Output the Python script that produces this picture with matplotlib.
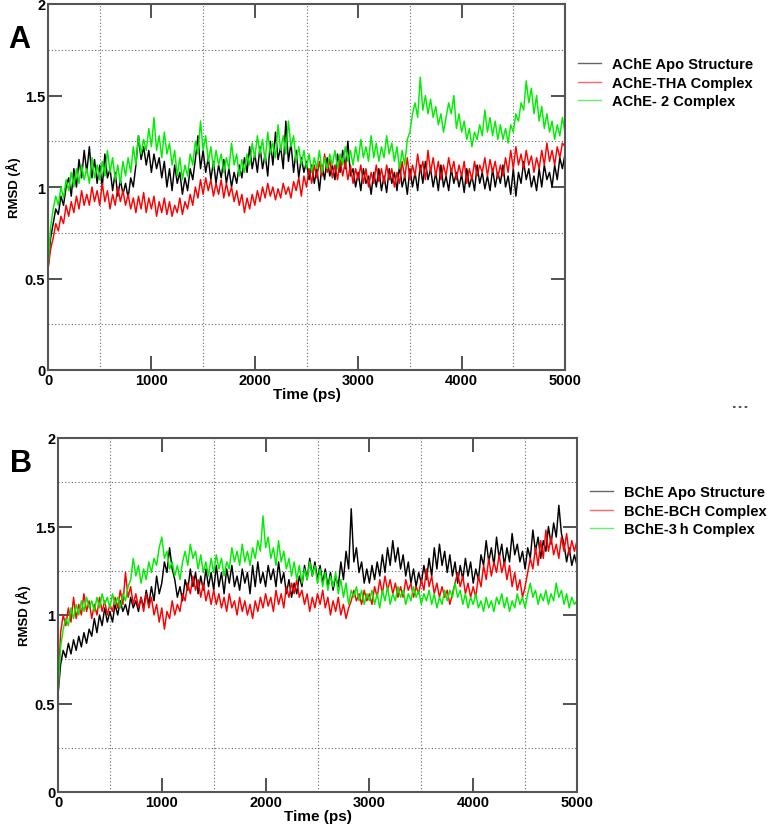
import numpy as np
import matplotlib
matplotlib.use("Agg")
import matplotlib.pyplot as plt
from matplotlib.lines import Line2D

plt.rcParams['font.family'] = ['Liberation Sans', 'DejaVu Sans']
plt.rcParams['font.weight'] = 'bold'

time_ps = np.arange(0, 5001, 25)

ache_apo = [0.55, 0.72, 0.80, 0.88, 0.85, 0.95, 0.90, 1.00, 1.05, 0.95,
            1.10, 1.00, 1.15, 1.05, 1.20, 1.08, 1.22, 1.05, 1.15, 1.02,
            1.12, 1.00, 1.18, 1.05, 1.10, 0.98, 1.08, 0.95, 1.04, 0.96,
            1.02, 0.94, 1.05, 1.00, 1.12, 1.28, 1.15, 1.22, 1.12, 1.20,
            1.08, 1.18, 1.10, 1.16, 1.05, 1.14, 1.00, 1.10, 0.98, 1.12,
            1.02, 1.08, 0.96, 1.05, 0.98, 1.10, 1.04, 1.15, 1.28, 1.10,
            1.20, 1.08, 1.16, 1.04, 1.14, 1.02, 1.12, 1.05, 1.15, 1.02,
            1.10, 1.00, 1.08, 1.02, 1.12, 1.05, 1.16, 1.08, 1.22, 1.10,
            1.18, 1.08, 1.22, 1.10, 1.18, 1.06, 1.25, 1.12, 1.30, 1.15,
            1.22, 1.10, 1.36, 1.14, 1.24, 1.08, 1.20, 1.05, 1.16, 1.08,
            1.14, 1.04, 1.12, 1.02, 1.10, 0.98, 1.12, 1.04, 1.16, 1.06,
            1.12, 1.04, 1.18, 1.08, 1.20, 1.10, 1.25, 1.06, 1.10, 1.00,
            1.08, 0.98, 1.10, 1.02, 1.06, 0.96, 1.08, 1.00, 1.10, 0.98,
            1.06, 0.97, 1.10, 1.02, 1.08, 0.98, 1.12, 1.00, 1.06, 0.96,
            1.10, 1.00, 1.08, 0.98, 1.12, 1.02, 1.14, 1.04, 1.10, 1.00,
            1.08, 0.98, 1.12, 1.00, 1.06, 0.98, 1.10, 1.02, 1.08, 1.00,
            1.07, 0.97, 1.10, 1.00, 1.06, 0.98, 1.12, 1.02, 1.08, 0.99,
            1.06, 0.98, 1.10, 1.00, 1.08, 1.02, 1.12, 1.00, 1.06, 0.96,
            1.10, 0.95, 1.08, 1.02, 1.14, 1.04, 1.10, 1.00, 1.06, 0.98,
            1.10, 1.00, 1.12, 1.04, 1.08, 1.00, 1.12, 1.04, 1.16, 1.10,
            1.18]
ache_tha = [0.55, 0.66, 0.72, 0.80, 0.76, 0.84, 0.80, 0.90, 0.84, 0.92,
            0.86, 0.95, 0.88, 0.98, 0.90, 0.96, 0.90, 1.00, 0.92, 0.98,
            0.90, 1.02, 0.92, 0.98, 0.88, 0.96, 0.90, 1.00, 0.92, 0.98,
            0.90, 0.96, 0.88, 0.94, 0.86, 0.95, 0.88, 0.97, 0.86, 0.94,
            0.88, 0.95, 0.84, 0.92, 0.86, 0.94, 0.85, 0.92, 0.84, 0.90,
            0.86, 0.94, 0.85, 0.92, 0.88, 0.96, 0.90, 1.00, 0.94, 1.04,
            0.96, 1.05, 0.98, 1.04, 0.95, 1.02, 0.96, 1.04, 0.94, 1.02,
            0.95, 1.00, 0.92, 0.98, 0.90, 0.96, 0.86, 0.94, 0.88, 0.96,
            0.90, 0.98, 0.92, 1.00, 0.94, 1.02, 0.95, 1.00, 0.93, 0.99,
            0.94, 1.02, 0.96, 1.00, 0.94, 1.03, 0.98, 1.05, 0.95, 1.06,
            1.00, 1.10, 1.02, 1.12, 1.05, 1.14, 1.06, 1.18, 1.08, 1.15,
            1.05, 1.12, 1.04, 1.15, 1.06, 1.14, 1.04, 1.12, 1.02, 1.10,
            1.04, 1.12, 1.02, 1.10, 1.00, 1.08, 1.02, 1.12, 1.03, 1.10,
            1.02, 1.12, 1.04, 1.10, 1.00, 1.08, 1.02, 1.14, 1.05, 1.16,
            1.04, 1.12, 1.06, 1.18, 1.08, 1.14, 1.04, 1.20, 1.08, 1.16,
            1.06, 1.14, 1.04, 1.12, 1.06, 1.16, 1.08, 1.14, 1.04, 1.12,
            1.06, 1.14, 1.02, 1.10, 1.04, 1.14, 1.06, 1.12, 1.08, 1.16,
            1.06, 1.15, 1.08, 1.14, 1.05, 1.12, 1.06, 1.16, 1.08, 1.20,
            1.10, 1.22, 1.12, 1.18, 1.10, 1.20, 1.12, 1.17, 1.08, 1.16,
            1.10, 1.20, 1.12, 1.24, 1.14, 1.20, 1.12, 1.22, 1.16, 1.24,
            1.22]
ache_2 = [0.55, 0.78, 0.88, 0.95, 0.90, 1.00, 0.94, 1.04, 0.98, 1.08,
          1.00, 1.10, 1.02, 1.12, 1.04, 1.10, 1.02, 1.16, 1.05, 1.12,
          1.04, 1.14, 1.06, 1.20, 1.08, 1.16, 1.04, 1.12, 1.02, 1.14,
          1.06, 1.16, 1.08, 1.22, 1.12, 1.28, 1.18, 1.26, 1.20, 1.32,
          1.22, 1.38, 1.20, 1.28, 1.16, 1.30, 1.18, 1.24, 1.12, 1.20,
          1.06, 1.16, 1.04, 1.12, 1.06, 1.18, 1.12, 1.25, 1.18, 1.36,
          1.20, 1.28, 1.14, 1.22, 1.10, 1.20, 1.12, 1.18, 1.08, 1.16,
          1.10, 1.24, 1.12, 1.18, 1.06, 1.15, 1.08, 1.18, 1.12, 1.24,
          1.16, 1.28, 1.18, 1.26, 1.14, 1.30, 1.18, 1.24, 1.16, 1.34,
          1.20, 1.28, 1.18, 1.36, 1.22, 1.28, 1.14, 1.22, 1.12, 1.20,
          1.10, 1.18, 1.08, 1.16, 1.10, 1.20, 1.08, 1.16, 1.10, 1.18,
          1.12, 1.20, 1.10, 1.18, 1.12, 1.22, 1.14, 1.20, 1.12, 1.22,
          1.14, 1.26, 1.16, 1.22, 1.14, 1.28, 1.16, 1.24, 1.14, 1.22,
          1.16, 1.28, 1.18, 1.24, 1.14, 1.22, 1.10, 1.20, 1.12, 1.26,
          1.30, 1.40, 1.46, 1.38, 1.60, 1.42, 1.50, 1.40, 1.48, 1.38,
          1.44, 1.34, 1.40, 1.30, 1.38, 1.46, 1.40, 1.50, 1.32, 1.40,
          1.30, 1.36, 1.26, 1.32, 1.22, 1.30, 1.26, 1.34, 1.28, 1.42,
          1.30, 1.38, 1.28, 1.36, 1.26, 1.34, 1.26, 1.32, 1.24, 1.34,
          1.30, 1.40, 1.36, 1.46, 1.42, 1.58, 1.46, 1.54, 1.40, 1.50,
          1.36, 1.44, 1.32, 1.40, 1.30, 1.36, 1.26, 1.34, 1.28, 1.38,
          1.30]

bche_apo = [0.55, 0.72, 0.80, 0.76, 0.84, 0.78, 0.86, 0.80, 0.88, 0.82,
            0.90, 0.84, 0.92, 0.88, 0.98, 0.90, 1.00, 0.94, 1.04, 0.96,
            1.02, 0.96, 1.06, 1.00, 1.08, 1.02, 1.06, 1.00, 1.10, 1.04,
            1.08, 1.02, 1.10, 1.04, 1.14, 1.06, 1.16, 1.08, 1.22, 1.12,
            1.18, 1.30, 1.24, 1.38, 1.26, 1.20, 1.10, 1.16, 1.08, 1.20,
            1.14, 1.26, 1.16, 1.24, 1.12, 1.22, 1.14, 1.26, 1.16, 1.24,
            1.14, 1.28, 1.16, 1.24, 1.12, 1.26, 1.18, 1.28, 1.16, 1.22,
            1.14, 1.26, 1.18, 1.24, 1.12, 1.28, 1.16, 1.30, 1.18, 1.24,
            1.16, 1.28, 1.20, 1.26, 1.16, 1.30, 1.18, 1.24, 1.12, 1.20,
            1.10, 1.18, 1.12, 1.22, 1.16, 1.28, 1.20, 1.32, 1.22, 1.30,
            1.20, 1.28, 1.18, 1.26, 1.16, 1.24, 1.14, 1.22, 1.16, 1.30,
            1.20, 1.36, 1.26, 1.60, 1.30, 1.38, 1.24, 1.30, 1.18, 1.26,
            1.18, 1.28, 1.20, 1.30, 1.22, 1.34, 1.24, 1.38, 1.28, 1.42,
            1.30, 1.38, 1.26, 1.34, 1.22, 1.30, 1.18, 1.26, 1.16, 1.24,
            1.18, 1.28, 1.20, 1.32, 1.22, 1.38, 1.26, 1.40, 1.28, 1.36,
            1.24, 1.34, 1.22, 1.30, 1.18, 1.28, 1.20, 1.32, 1.22, 1.30,
            1.18, 1.26, 1.20, 1.34, 1.28, 1.42, 1.30, 1.38, 1.28, 1.44,
            1.32, 1.40, 1.28, 1.38, 1.30, 1.46, 1.34, 1.40, 1.30, 1.36,
            1.26, 1.38, 1.32, 1.48, 1.36, 1.44, 1.32, 1.42, 1.36, 1.50,
            1.40, 1.52, 1.44, 1.62, 1.46, 1.40, 1.30, 1.38, 1.28, 1.34,
            1.28]
bche_bch = [0.55, 0.90, 1.00, 0.94, 1.04, 0.96, 1.10, 0.98, 1.06, 1.00,
            1.12, 1.02, 1.08, 0.98, 1.06, 1.00, 1.10, 1.02, 1.08, 1.00,
            1.06, 1.02, 1.10, 1.04, 1.14, 1.06, 1.24, 1.10, 1.16, 1.06,
            1.12, 1.04, 1.10, 1.02, 1.12, 1.04, 1.10, 1.00, 1.06, 0.96,
            1.04, 0.92, 1.02, 0.98, 1.08, 1.00, 1.06, 1.02, 1.12, 1.08,
            1.18, 1.12, 1.22, 1.14, 1.20, 1.10, 1.18, 1.08, 1.14, 1.06,
            1.14, 1.06, 1.12, 1.04, 1.10, 1.02, 1.12, 1.04, 1.08, 1.00,
            1.10, 1.02, 1.08, 1.00, 1.06, 0.98, 1.08, 1.02, 1.10, 1.04,
            1.12, 1.05, 1.10, 1.02, 1.14, 1.06, 1.12, 1.04, 1.16, 1.10,
            1.18, 1.12, 1.20, 1.10, 1.14, 1.06, 1.12, 1.02, 1.10, 1.04,
            1.12, 1.06, 1.14, 1.04, 1.10, 1.00, 1.08, 1.02, 1.10, 1.00,
            1.06, 0.98, 1.04, 1.08, 1.14, 1.08, 1.12, 1.06, 1.14, 1.08,
            1.12, 1.06, 1.16, 1.10, 1.20, 1.12, 1.22, 1.14, 1.20, 1.12,
            1.18, 1.10, 1.16, 1.10, 1.20, 1.14, 1.18, 1.10, 1.16, 1.12,
            1.20, 1.14, 1.26, 1.16, 1.22, 1.12, 1.18, 1.10, 1.16, 1.10,
            1.14, 1.06, 1.12, 1.18, 1.24, 1.16, 1.22, 1.12, 1.18, 1.10,
            1.16, 1.10, 1.22, 1.16, 1.28, 1.20, 1.32, 1.22, 1.30, 1.24,
            1.34, 1.24, 1.30, 1.20, 1.28, 1.16, 1.24, 1.14, 1.20, 1.10,
            1.16, 1.24, 1.32, 1.26, 1.38, 1.28, 1.42, 1.32, 1.48, 1.36,
            1.44, 1.34, 1.40, 1.32, 1.44, 1.36, 1.46, 1.34, 1.42, 1.36,
            1.42]
bche_3h = [0.55, 0.82, 0.92, 0.98, 0.94, 1.04, 0.98, 1.06, 1.00, 1.08,
           1.02, 1.10, 1.04, 1.08, 1.02, 1.10, 1.04, 1.12, 1.06, 1.10,
           1.04, 1.12, 1.06, 1.10, 1.04, 1.12, 1.08, 1.16, 1.20, 1.32,
           1.22, 1.28, 1.18, 1.26, 1.20, 1.30, 1.24, 1.32, 1.28, 1.38,
           1.44, 1.32, 1.36, 1.26, 1.30, 1.22, 1.28, 1.20, 1.30, 1.36,
           1.28, 1.40, 1.32, 1.36, 1.26, 1.34, 1.24, 1.30, 1.22, 1.32,
           1.24, 1.34, 1.26, 1.32, 1.22, 1.30, 1.26, 1.38, 1.30, 1.36,
           1.28, 1.40, 1.30, 1.36, 1.28, 1.38, 1.32, 1.42, 1.36, 1.56,
           1.38, 1.44, 1.32, 1.38, 1.28, 1.42, 1.30, 1.36, 1.26, 1.32,
           1.22, 1.30, 1.20, 1.28, 1.18, 1.26, 1.20, 1.30, 1.22, 1.28,
           1.18, 1.26, 1.16, 1.24, 1.14, 1.22, 1.16, 1.24, 1.12, 1.20,
           1.10, 1.18, 1.06, 1.14, 1.10, 1.16, 1.08, 1.14, 1.06, 1.12,
           1.08, 1.14, 1.06, 1.12, 1.04, 1.14, 1.08, 1.16, 1.06, 1.12,
           1.08, 1.16, 1.10, 1.14, 1.06, 1.12, 1.08, 1.16, 1.10, 1.14,
           1.06, 1.12, 1.08, 1.14, 1.06, 1.12, 1.04, 1.10, 1.06, 1.14,
           1.08, 1.14, 1.10, 1.18, 1.10, 1.14, 1.06, 1.12, 1.04, 1.10,
           1.06, 1.12, 1.04, 1.08, 1.02, 1.10, 1.04, 1.08, 1.02, 1.10,
           1.06, 1.12, 1.04, 1.10, 1.02, 1.08, 1.04, 1.12, 1.06, 1.10,
           1.04, 1.12, 1.18, 1.10, 1.14, 1.06, 1.12, 1.08, 1.14, 1.06,
           1.12, 1.08, 1.18, 1.10, 1.14, 1.06, 1.12, 1.04, 1.10, 1.06,
           1.08]

labels_a = ["AChE Apo Structure", "AChE-THA Complex", "AChE- 2 Complex"]
labels_b = ["BChE Apo Structure", "BChE-BCH Complex", "BChE-3\u2009h Complex"]
colors = ["#000000", "#ff0000", "#00ee00"]

fig = plt.figure(figsize=(7.67, 8.28), dpi=100)
W, H = 767, 828


def make_ax(l, t, r, b):
    return fig.add_axes([l / W, 1 - b / H, (r - l) / W, (b - t) / H])


def style(ax):
    ax.set_xlim(0, 5000)
    ax.set_ylim(0, 2)
    ax.set_xticks([0, 1000, 2000, 3000, 4000, 5000])
    ax.set_yticks([0, 0.5, 1, 1.5, 2])
    ax.set_yticklabels(["0", "0.5", "1", "1.5", "2"])
    ax.set_xticks([500, 1500, 2500, 3500, 4500], minor=True)
    ax.set_yticks([0.25, 0.75, 1.25, 1.75], minor=True)
    ax.grid(which='minor', linestyle=(0, (1, 2)), color='#666666', linewidth=0.8)
    ax.tick_params(which='major', direction='in', length=10, width=1.2,
                   top=True, right=True, labelsize=10.5, pad=2, colors='#333333',
                   labelcolor='black')
    ax.tick_params(which='minor', length=0)
    for s in ax.spines.values():
        s.set_color('#555555')
        s.set_linewidth(1.5)
    ax.set_xlabel("Time (ps)", fontsize=11, fontweight='bold', labelpad=0)
    ax.set_ylabel("RMSD (\u00c5)", fontsize=9.5, fontweight='bold', labelpad=3)


axA = make_ax(48, 5, 565, 371)
for y, c, lab in zip([ache_apo, ache_tha, ache_2], colors, labels_a):
    axA.plot(time_ps, y, color=c, linewidth=1.05, label=lab)
style(axA)
legA = axA.legend(loc='upper left', bbox_to_anchor=(1.0, 0.89), frameon=False,
                  fontsize=10.5, handlelength=1.6, handletextpad=0.7,
                  labelspacing=0.3)
for h in legA.get_lines():
    h.set_linewidth(1.0)
    h.set_alpha(0.6)
fig.text(8 / W, 1 - 48 / H, "A", fontsize=22, fontweight='bold')

axB = make_ax(58, 439, 577, 793)
for y, c, lab in zip([bche_apo, bche_bch, bche_3h], colors, labels_b):
    axB.plot(time_ps, y, color=c, linewidth=1.05, label=lab)
style(axB)
legB = axB.legend(loc='upper left', bbox_to_anchor=(1.0, 0.903), frameon=False,
                  fontsize=10.5, handlelength=1.6, handletextpad=0.7,
                  labelspacing=0.3)
for h in legB.get_lines():
    h.set_linewidth(1.0)
    h.set_alpha(0.6)
fig.text(10 / W, 1 - 472 / H, "B", fontsize=22, fontweight='bold')

fig.lines.append(Line2D([733 / W, 748 / W], [1 - 408 / H, 1 - 408 / H],
                        transform=fig.transFigure, color='#333333',
                        linestyle=(0, (1.5, 2)), linewidth=1.2))

fig.savefig("out.png", dpi=100)
